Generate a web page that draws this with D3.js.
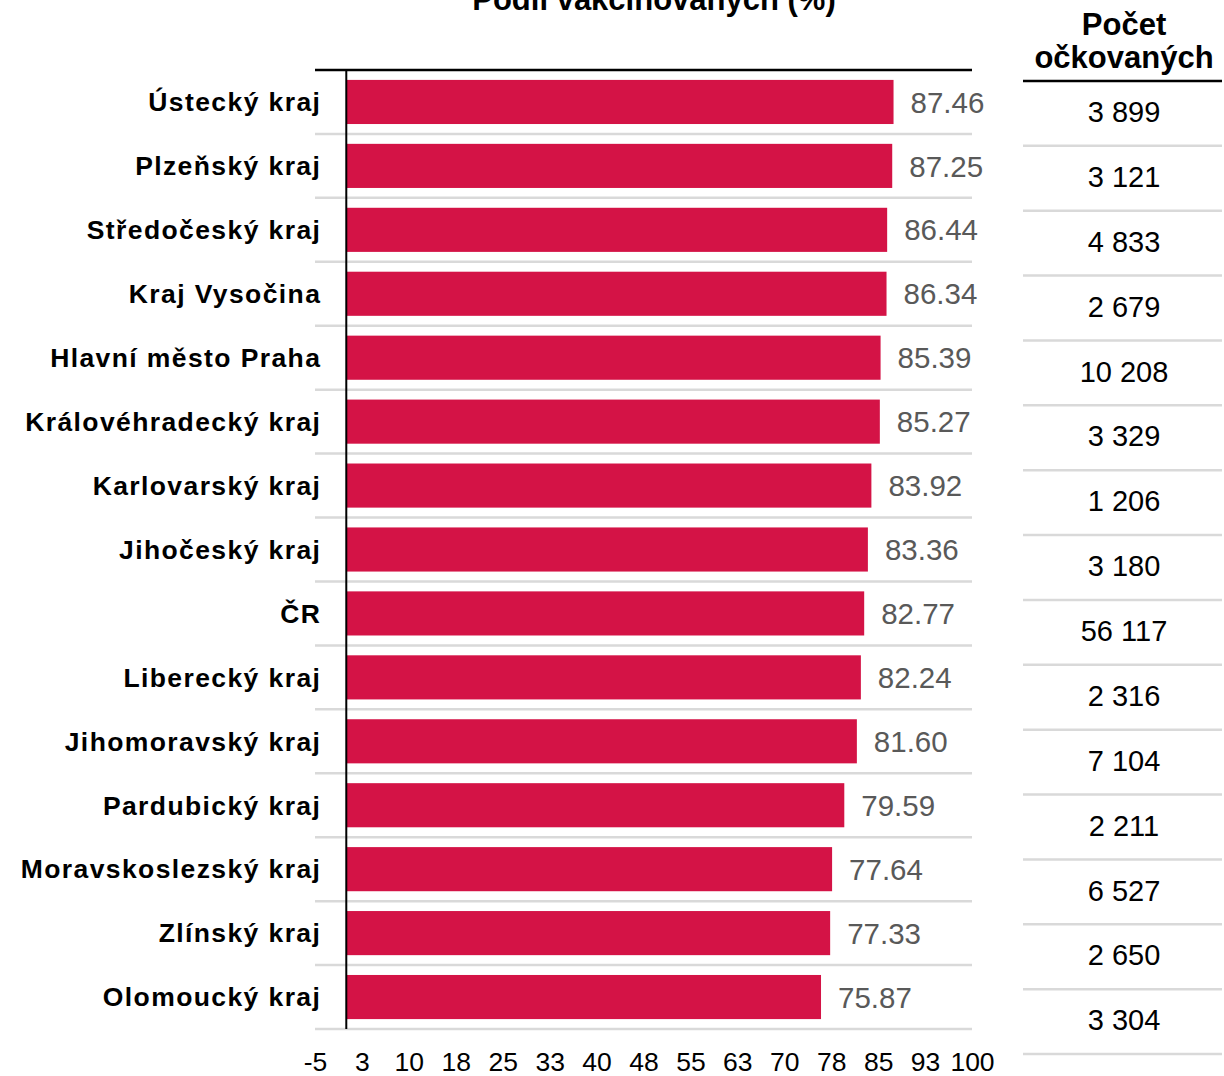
<!DOCTYPE html>
<html>
<head>
<meta charset="utf-8">
<script src="https://cdn.jsdelivr.net/npm/d3@7"></script>
<style>
  html, body { margin: 0; padding: 0; background: #fff; }
  svg { display: block; font-family: "Liberation Sans", Arial, sans-serif; }
</style>
</head>
<body>
<svg id="chart" width="1224" height="1076"></svg>
<script>
const categories = ["Ústecký kraj", "Plzeňský kraj", "Středočeský kraj", "Kraj Vysočina", "Hlavní město Praha", "Královéhradecký kraj", "Karlovarský kraj", "Jihočeský kraj", "ČR", "Liberecký kraj", "Jihomoravský kraj", "Pardubický kraj", "Moravskoslezský kraj", "Zlínský kraj", "Olomoucký kraj"];
const shareVaccinated = [87.46, 87.25, 86.44, 86.34, 85.39, 85.27, 83.92, 83.36, 82.77, 82.24, 81.60, 79.59, 77.64, 77.33, 75.87];
const countVaccinated = [3899, 3121, 4833, 2679, 10208, 3329, 1206, 3180, 56117, 2316, 7104, 2211, 6527, 2650, 3304];
const xTicks = [-5, 2.5, 10, 17.5, 25, 32.5, 40, 47.5, 55, 62.5, 70, 77.5, 85, 92.5, 100];
const chartTitle = "Podíl vakcinovaných (%)";
const tableTitle = ["Počet", "očkovaných"];

const svg = d3.select("#chart");
const barColor = "#D41346";
const gridColor = "#d9d9d9";

const x = d3.scaleLinear().domain([-5, 100]).range([315, 972]);
const y = d3.scaleBand().domain(categories).range([70, 1029]).paddingInner(0.31).paddingOuter(0.155);
const yT = d3.scaleBand().domain(categories).range([81, 1054]);

const data = categories.map((c, i) => ({ cat: c, v: shareVaccinated[i], n: countVaccinated[i] }));
const step = y.step();
const bandStart = c => y(c) - step * 0.155;

// gridlines (gray) at row boundaries
svg.append("g").selectAll("line").data(categories).join("line")
  .attr("x1", x.range()[0]).attr("x2", x.range()[1])
  .attr("y1", c => bandStart(c) + step).attr("y2", c => bandStart(c) + step)
  .attr("stroke", gridColor).attr("stroke-width", 2.5);

// top black line
svg.append("line")
  .attr("x1", x.range()[0]).attr("x2", x.range()[1])
  .attr("y1", y.range()[0]).attr("y2", y.range()[0])
  .attr("stroke", "#000").attr("stroke-width", 2.5);

// bars
svg.append("g").selectAll("rect").data(data).join("rect")
  .attr("x", x(0)).attr("y", d => y(d.cat))
  .attr("width", d => x(d.v) - x(0)).attr("height", y.bandwidth())
  .attr("fill", barColor);

// vertical axis line
svg.append("line")
  .attr("x1", x(0)).attr("x2", x(0))
  .attr("y1", y.range()[0]).attr("y2", y.range()[1])
  .attr("stroke", "#000").attr("stroke-width", 2);

// category labels
svg.append("g").selectAll("text").data(data).join("text")
  .attr("x", x(0) - 25).attr("y", d => y(d.cat) + y.bandwidth() / 2)
  .attr("dy", "0.35em").attr("text-anchor", "end")
  .attr("font-size", 26.5).attr("font-weight", "bold").attr("letter-spacing", "1.4px")
  .attr("fill", "#000").text(d => d.cat);

// value labels
svg.append("g").selectAll("text").data(data).join("text")
  .attr("x", d => x(d.v) + 17).attr("y", d => y(d.cat) + y.bandwidth() / 2)
  .attr("dy", "0.36em").attr("font-size", 29.5).attr("fill", "#595959")
  .text(d => d.v.toFixed(2));

// x axis
const xAxis = d3.axisBottom(x).tickValues(xTicks).tickSize(0).tickPadding(23)
  .tickFormat(d => String(Math.round(d)));
const gx = svg.append("g").attr("transform", `translate(0,${y.range()[1]})`).call(xAxis);
gx.select(".domain").remove();
gx.selectAll("text").attr("font-size", 26.5).attr("fill", "#000")
  .attr("font-family", "'Liberation Sans', Arial, sans-serif");

// title
svg.append("text").attr("x", 654).attr("y", 10).attr("text-anchor", "middle")
  .attr("font-size", 31).attr("font-weight", "bold").attr("fill", "#000").text(chartTitle);

// table header
const tx0 = 1023, tx1 = 1222, tcx = 1124;
svg.append("text").attr("x", tcx).attr("y", 35).attr("text-anchor", "middle")
  .attr("font-size", 31).attr("font-weight", "bold").text(tableTitle[0]);
svg.append("text").attr("x", tcx).attr("y", 68).attr("text-anchor", "middle")
  .attr("font-size", 31).attr("font-weight", "bold").text(tableTitle[1]);
svg.append("line").attr("x1", tx0).attr("x2", tx1).attr("y1", yT.range()[0]).attr("y2", yT.range()[0])
  .attr("stroke", "#000").attr("stroke-width", 2.5);

svg.append("g").selectAll("line").data(categories).join("line")
  .attr("x1", tx0).attr("x2", tx1)
  .attr("y1", c => yT(c) + yT.step()).attr("y2", c => yT(c) + yT.step())
  .attr("stroke", gridColor).attr("stroke-width", 2.5);

const fmt = d3.formatLocale({ decimal: ".", thousands: " ", grouping: [3], currency: ["", ""] }).format(",d");
svg.append("g").selectAll("text").data(data).join("text")
  .attr("x", tcx).attr("y", d => yT(d.cat) + yT.bandwidth() / 2)
  .attr("dy", "0.3em").attr("text-anchor", "middle")
  .attr("font-size", 29).attr("fill", "#000").text(d => fmt(d.n));
</script>
</body>
</html>
